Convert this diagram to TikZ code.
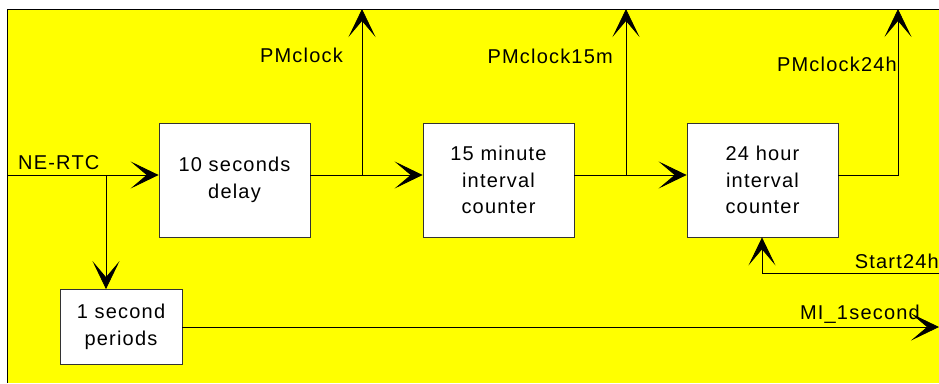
\documentclass[tikz,border=0pt]{standalone}
\usepackage{fontspec}
\setmainfont{Liberation Sans}[LetterSpace=6]
\usetikzlibrary{arrows.meta,calc}
\definecolor{bgyellow}{RGB}{255,255,0}
\begin{document}
\begin{tikzpicture}[x=1pt,y=-1pt,
  every node/.style={font=\fontsize{20}{26.5}\selectfont},
  blockbox/.style={draw=black!80,fill=white,line width=0.8pt,inner sep=0pt,align=center,minimum width=151pt,minimum height=114pt},
  wire/.style={line width=0.8pt,black},
  arr/.style={wire,-{Stealth[length=28pt,width=27pt,inset=16pt]}},
  lbl/.style={inner sep=0pt}]
\useasboundingbox (0,0) rectangle (939,383);
\fill[bgyellow] (7.5,9) rectangle (939,383);
\draw[line width=0.8pt] (939,9) -- (7.5,9) -- (7.5,383);
% blocks
\node[blockbox] (delay) at (234.5,180) {10 seconds\\delay};
\node[blockbox] (min) at (498.5,180) {15 minute\\interval\\counter};
\node[blockbox] (hour) at (762.5,180) {24 hour\\interval\\counter};
\node[blockbox,minimum width=122pt,minimum height=75pt] (sec) at (121,327) {1 second\\periods};
% coordinates
\coordinate (in) at (7.5,175);
\coordinate (br) at (106,175);
\coordinate (j1) at (362,175);
\coordinate (t1) at (362,9);
\coordinate (j2) at (626,175);
\coordinate (t2) at (626,9);
\coordinate (c3) at (898,175);
\coordinate (t3) at (898,9);
\coordinate (sr) at (939,273);
\coordinate (sc) at (762,273);
\coordinate (mo) at (939,327);
% connectors
\draw[arr] (in) -- (in -| delay.west);
\draw[arr] (br) -- (br |- sec.north);
\draw[arr] (j1 -| delay.east) -- (j1 -| min.west);
\draw[arr] (j1) -- (t1);
\draw[arr] (j2 -| min.east) -- (j2 -| hour.west);
\draw[arr] (j2) -- (t2);
\draw[arr] (c3 -| hour.east) -- (c3) -- (t3);
\draw[arr] (sr) -- (sc) -- (sc |- hour.south);
\draw[arr] (mo -| sec.east) -- (mo);
% labels
\node[lbl,anchor=base west] (lin) at (18,169) {NE-RTC};
\node[lbl,anchor=base east] (l1) at (343,62) {PMclock};
\node[lbl,anchor=base east] (l2) at (613,63) {PMclock15m};
\node[lbl,anchor=base east] (l3) at (897,71) {PMclock24h};
\node[lbl,anchor=base east] (l4) at (939,268) {Start24h};
\node[lbl,anchor=base east] (l5) at (920,319) {MI\_1second};
\end{tikzpicture}
\end{document}
